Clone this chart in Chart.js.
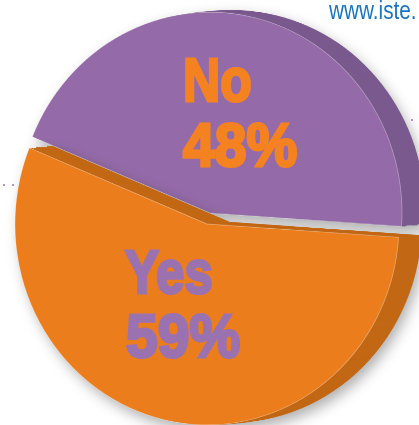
<!DOCTYPE html>
<html>
<head>
<meta charset="utf-8">
<script src="https://cdn.jsdelivr.net/npm/chart.js@4/dist/chart.umd.min.js"></script>
<style>
  html, body { margin: 0; padding: 0; background: #fff; }
  #stage { position: relative; width: 419px; height: 425px; overflow: hidden; }
  #stage canvas { position: absolute; transform: scaleY(1.046); }
  .layer { position: absolute; left: 0; top: 0; width: 419px; height: 425px; }
  .rim { filter: drop-shadow(3px 6px 7px rgba(0,0,0,0.32)); }
  .label {
    position: absolute; white-space: nowrap; transform-origin: 0 0;
    font-family: "Liberation Sans", sans-serif; font-weight: 700; font-size: 62px; line-height: 66px;
    -webkit-text-stroke: 3px currentColor;
  }
  .no { color: #F58220; }
  .yes { color: #9B72B0; }
  #url {
    position: absolute; left: 329px; top: -3px; white-space: nowrap; transform-origin: 0 0; transform: scaleX(.83);
    font-family: "Liberation Sans", sans-serif; font-size: 25px; line-height: 26px; color: #1C75BC;
  }
  .dot { position: absolute; width: 2px; height: 2px; border-radius: 50%; background: #9B72B0; }
</style>
</head>
<body>
<div id="stage">
  <div class="layer rim" id="purpleRim"></div>
  <div class="layer" id="purpleFace"></div>
  <div class="layer rim" id="orangeRim"></div>
  <div class="layer" id="orangeFace"></div>
  <div id="url">www.iste.</div>
  <span class="dot" style="left:3px;top:184px"></span>
  <span class="dot" style="left:12px;top:184px"></span>
  <span class="dot" style="left:411px;top:119px"></span>
  <div class="label no" style="left:183px;top:47px;transform:scaleX(.83)">No</div>
  <div class="label no" style="left:183px;top:112px;transform:scaleX(.92)">48%</div>
  <div class="label yes" style="left:125px;top:239px;transform:scaleX(.82)">Yes</div>
  <div class="label yes" style="left:126px;top:303px;transform:scaleX(.92)">59%</div>
</div>
<script>
// Survey answers shown as an exploded pie with an extruded rim.
const categories = ['No', 'Yes'];
const values = [48, 59];
const faceColors = ['#946BA8', '#EC7D1C'];
const rimColors = ['#7A5A8E', '#C26815'];
const startAngle = 292.3;
const radius = 192;
const canvasSize = 400;
const rimDepth = { x: 23, y: -2 };
const rimSteps = 14;

// One slice per layer: the other slice stays transparent so the sweep still comes from the values.
function drawLayer(parentId, sliceIndex, colors, centerX, centerY, edge) {
  const canvas = document.createElement('canvas');
  document.getElementById(parentId).appendChild(canvas);
  canvas.width = canvasSize;
  canvas.height = canvasSize;
  new Chart(canvas, {
    type: 'pie',
    data: {
      labels: categories,
      datasets: [{
        data: values,
        backgroundColor: categories.map((_, i) => i === sliceIndex ? colors[i] : 'transparent'),
        borderColor: categories.map((_, i) => i === sliceIndex ? edge : 'transparent'),
        borderWidth: edge === 'transparent' ? 0 : 0.7,
        hoverOffset: 0
      }]
    },
    options: {
      responsive: false,
      animation: false,
      devicePixelRatio: 2,
      radius: radius,
      rotation: startAngle,
      layout: { padding: 0 },
      plugins: { legend: { display: false }, tooltip: { enabled: false } },
      events: []
    }
  });
  canvas.style.left = (centerX - canvasSize / 2) + 'px';
  canvas.style.top = (centerY - canvasSize / 2) + 'px';
}

// The rim is the slice swept back along the depth vector.
function drawRim(parentId, sliceIndex, centerX, centerY) {
  for (let step = rimSteps; step >= 1; step--) {
    const t = step / rimSteps;
    drawLayer(parentId, sliceIndex, rimColors, centerX + rimDepth.x * t, centerY + rimDepth.y * t, 'transparent');
  }
}

const faceEdge = 'rgba(255,255,255,0.4)';
drawRim('purpleRim', 0, 210, 213);
drawLayer('purpleFace', 0, faceColors, 210, 213, faceEdge);
drawRim('orangeRim', 1, 207, 224);
drawLayer('orangeFace', 1, faceColors, 207, 224, faceEdge);
</script>
</body>
</html>
